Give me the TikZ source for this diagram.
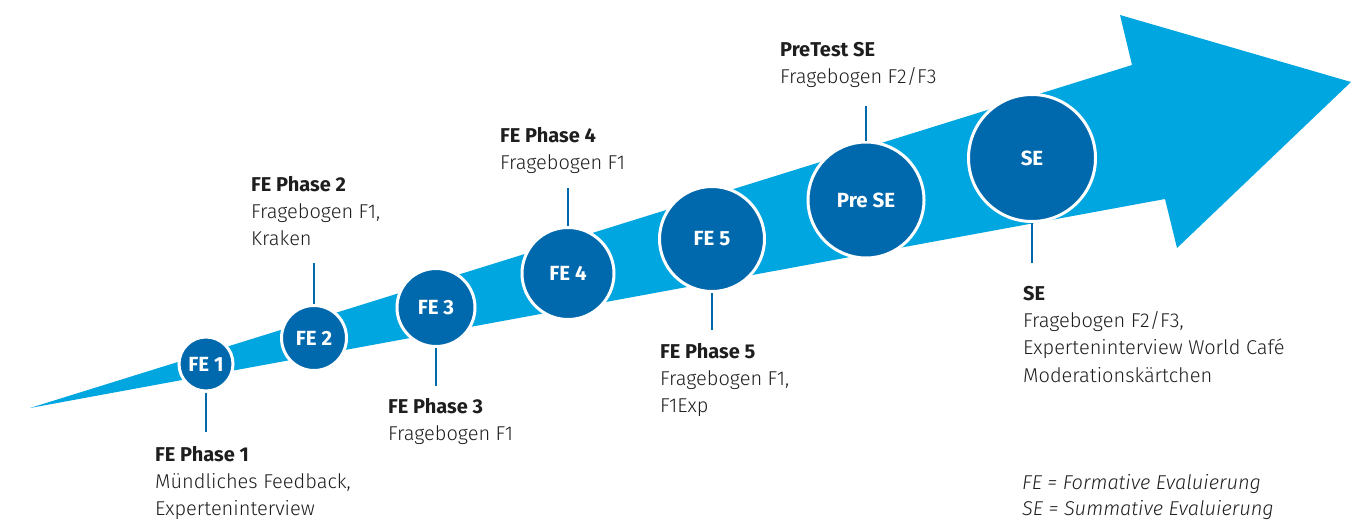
\documentclass[tikz,border=0pt]{standalone}
\usepackage{fontspec}
\setmainfont{Fira Sans}[UprightFont=* Light, BoldFont=* Bold, ItalicFont=* Light Italic, BoldItalicFont=* Bold Italic]
\usetikzlibrary{positioning}
\definecolor{arrowcyan}{RGB}{0,166,224}
\definecolor{stageblue}{RGB}{0,104,172}
\definecolor{textgray}{RGB}{30,30,30}

\begin{document}
\begin{tikzpicture}[
    x=1pt, y=-1pt,
    every node/.style={font=\fontsize{20}{27}\selectfont},
    stage/.style={circle, fill=stageblue, draw=white, line width=3pt, inner sep=0pt, text=white, font=\fontsize{20.5}{20.5}\selectfont\bfseries},
    phase/.style={anchor=base west, align=left, inner sep=0pt, text=textgray},
    stem/.style={draw=stageblue, line width=2.5pt}
]
\useasboundingbox (0,0) rectangle (1366,520);
\fill[arrowcyan] (30,408) -- (1132,65) -- (1120,15) -- (1351,82) -- (1177,248) -- (1165,199) -- cycle;

\node[stage, minimum size=54pt] (fe1) at (206,364) {FE 1};
\node[stage, minimum size=65pt] (fe2) at (314,338) {FE 2};
\node[stage, minimum size=78pt] (fe3) at (436,307.5) {FE 3};
\node[stage, minimum size=92pt] (fe4) at (568,273.5) {FE 4};
\node[stage, minimum size=105pt] (fe5) at (712,239) {FE 5};
\node[stage, minimum size=116pt] (prese) at (866,200) {Pre SE};
\node[stage, minimum size=127pt] (se) at (1032,158) {SE};

\coordinate (fe1end) at (206,432);
\coordinate (fe2end) at (314,263);
\coordinate (fe3end) at (436,386);
\coordinate (fe4end) at (568,188);
\coordinate (fe5end) at (712,330);
\coordinate (preseend) at (866,106);
\coordinate (seend) at (1032,263);
\draw[stem] (fe1) -- (fe1end);
\draw[stem] (fe2) -- (fe2end);
\draw[stem] (fe3) -- (fe3end);
\draw[stem] (fe4) -- (fe4end);
\draw[stem] (fe5) -- (fe5end);
\draw[stem] (prese) -- (preseend);
\draw[stem] (se) -- (seend);

% base of a multi-line node sits on its last line
\node[phase] (fe1txt) at (155,515) {\textbf{FE Phase 1}\\Mündliches Feedback,\\Experteninterview};
\node[phase] (fe2txt) at (251,245) {\textbf{FE Phase 2}\\Fragebogen F1,\\Kraken};
\node[phase] (fe3txt) at (388,440) {\textbf{FE Phase 3}\\Fragebogen F1};
\node[phase] (fe4txt) at (500,169) {\textbf{FE Phase 4}\\Fragebogen F1};
\node[phase] (fe5txt) at (660,412) {\textbf{FE Phase 5}\\Fragebogen F1,\\F1Exp};
\node[phase] (presetxt) at (780,83) {\textbf{PreTest SE}\\Fragebogen F2/F3};
\node[phase] (setxt) at (1023,382) {\textbf{SE}\\Fragebogen F2/F3,\\Experteninterview World Café\\[1pt]Moderationskärtchen};
\node[phase, font=\fontsize{20}{26}\selectfont\itshape] (legend) at (1022,515) {FE = Formative Evaluierung\\SE = Summative Evaluierung};
\end{tikzpicture}
\end{document}
